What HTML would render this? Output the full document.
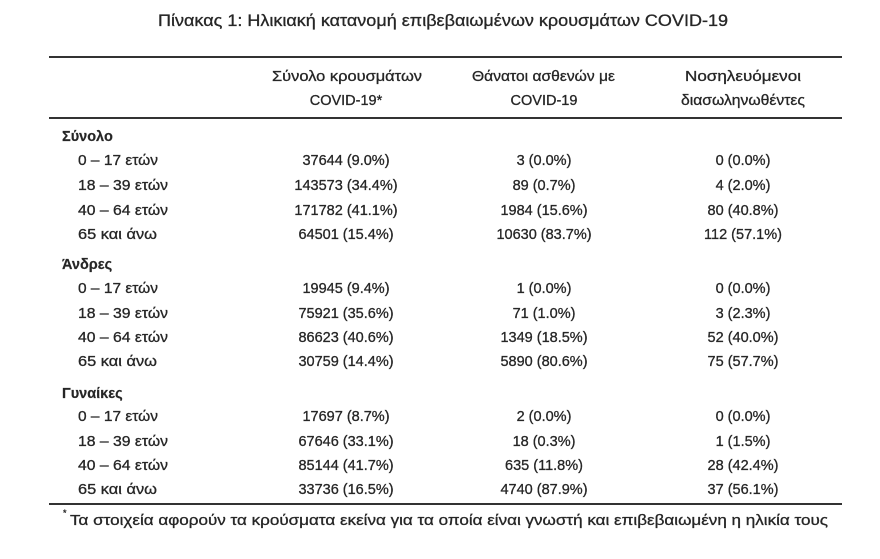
<!DOCTYPE html>
<html>
<head>
<meta charset="utf-8">
<style>
  html,body{margin:0;padding:0;background:#fff;}
  svg{display:block;}
  text{font-family:"Liberation Sans","Noto Sans CJK SC",sans-serif;fill:#262626;stroke:#262626;stroke-width:0.3px;font-size:14.5px;}
  .b{font-weight:bold;stroke-width:0.2px;}
  .m{text-anchor:middle;}
</style>
</head>
<body>
<svg width="880" height="559" viewBox="0 0 880 559" xmlns="http://www.w3.org/2000/svg">
  <rect width="880" height="559" fill="#fff"/>
  <text x="158" y="26" style="font-size:16.5px" textLength="570" lengthAdjust="spacingAndGlyphs">Πίνακας 1: Ηλικιακή κατανομή επιβεβαιωμένων κρουσμάτων COVID-19</text>

  <rect x="49" y="56" width="793" height="2" fill="#333"/>
  <rect x="49" y="117" width="793" height="2" fill="#333"/>
  <rect x="49" y="503" width="793" height="2" fill="#333"/>

  <text x="272" y="81" textLength="150" lengthAdjust="spacingAndGlyphs">Σύνολο κρουσμάτων</text>
  <text class="m" x="346" y="105">COVID-19*</text>
  <text x="472" y="81" textLength="143" lengthAdjust="spacingAndGlyphs">Θάνατοι ασθενών με</text>
  <text class="m" x="544" y="105">COVID-19</text>
  <text x="685" y="81" textLength="116" lengthAdjust="spacingAndGlyphs">Νοσηλευόμενοι</text>
  <text x="681" y="105" textLength="124" lengthAdjust="spacingAndGlyphs">διασωληνωθέντες</text>

  <!-- Σύνολο -->
  <text class="b" x="62" y="141">Σύνολο</text>
  <text x="78" y="165" textLength="80" lengthAdjust="spacingAndGlyphs">0 – 17 ετών</text>
  <text x="78" y="190" textLength="90" lengthAdjust="spacingAndGlyphs">18 – 39 ετών</text>
  <text x="78" y="215" textLength="90" lengthAdjust="spacingAndGlyphs">40 – 64 ετών</text>
  <text x="78" y="239" textLength="79" lengthAdjust="spacingAndGlyphs">65 και άνω</text>
  <text class="m" x="346" y="165">37644 (9.0%)</text>
  <text class="m" x="346" y="190">143573 (34.4%)</text>
  <text class="m" x="346" y="215">171782 (41.1%)</text>
  <text class="m" x="346" y="239">64501 (15.4%)</text>
  <text class="m" x="544" y="165">3 (0.0%)</text>
  <text class="m" x="544" y="190">89 (0.7%)</text>
  <text class="m" x="544" y="215">1984 (15.6%)</text>
  <text class="m" x="544" y="239">10630 (83.7%)</text>
  <text class="m" x="743" y="165">0 (0.0%)</text>
  <text class="m" x="743" y="190">4 (2.0%)</text>
  <text class="m" x="743" y="215">80 (40.8%)</text>
  <text class="m" x="743" y="239">112 (57.1%)</text>

  <!-- Άνδρες -->
  <text class="b" x="62" y="269">Άνδρες</text>
  <text x="78" y="293" textLength="80" lengthAdjust="spacingAndGlyphs">0 – 17 ετών</text>
  <text x="78" y="318" textLength="90" lengthAdjust="spacingAndGlyphs">18 – 39 ετών</text>
  <text x="78" y="342" textLength="90" lengthAdjust="spacingAndGlyphs">40 – 64 ετών</text>
  <text x="78" y="366" textLength="79" lengthAdjust="spacingAndGlyphs">65 και άνω</text>
  <text class="m" x="346" y="293">19945 (9.4%)</text>
  <text class="m" x="346" y="318">75921 (35.6%)</text>
  <text class="m" x="346" y="342">86623 (40.6%)</text>
  <text class="m" x="346" y="366">30759 (14.4%)</text>
  <text class="m" x="544" y="293">1 (0.0%)</text>
  <text class="m" x="544" y="318">71 (1.0%)</text>
  <text class="m" x="544" y="342">1349 (18.5%)</text>
  <text class="m" x="544" y="366">5890 (80.6%)</text>
  <text class="m" x="743" y="293">0 (0.0%)</text>
  <text class="m" x="743" y="318">3 (2.3%)</text>
  <text class="m" x="743" y="342">52 (40.0%)</text>
  <text class="m" x="743" y="366">75 (57.7%)</text>

  <!-- Γυναίκες -->
  <text class="b" x="62" y="398">Γυναίκες</text>
  <text x="78" y="421" textLength="80" lengthAdjust="spacingAndGlyphs">0 – 17 ετών</text>
  <text x="78" y="446" textLength="90" lengthAdjust="spacingAndGlyphs">18 – 39 ετών</text>
  <text x="78" y="470" textLength="90" lengthAdjust="spacingAndGlyphs">40 – 64 ετών</text>
  <text x="78" y="494" textLength="79" lengthAdjust="spacingAndGlyphs">65 και άνω</text>
  <text class="m" x="346" y="421">17697 (8.7%)</text>
  <text class="m" x="346" y="446">67646 (33.1%)</text>
  <text class="m" x="346" y="470">85144 (41.7%)</text>
  <text class="m" x="346" y="494">33736 (16.5%)</text>
  <text class="m" x="544" y="421">2 (0.0%)</text>
  <text class="m" x="544" y="446">18 (0.3%)</text>
  <text class="m" x="544" y="470">635 (11.8%)</text>
  <text class="m" x="544" y="494">4740 (87.9%)</text>
  <text class="m" x="743" y="421">0 (0.0%)</text>
  <text class="m" x="743" y="446">1 (1.5%)</text>
  <text class="m" x="743" y="470">28 (42.4%)</text>
  <text class="m" x="743" y="494">37 (56.1%)</text>

  <text x="63" y="516" style="font-size:9px">*</text>
  <text x="70" y="525" textLength="758" lengthAdjust="spacingAndGlyphs">Τα στοιχεία αφορούν τα κρούσματα εκείνα για τα οποία είναι γνωστή και επιβεβαιωμένη η ηλικία τους</text>
</svg>
</body>
</html>
